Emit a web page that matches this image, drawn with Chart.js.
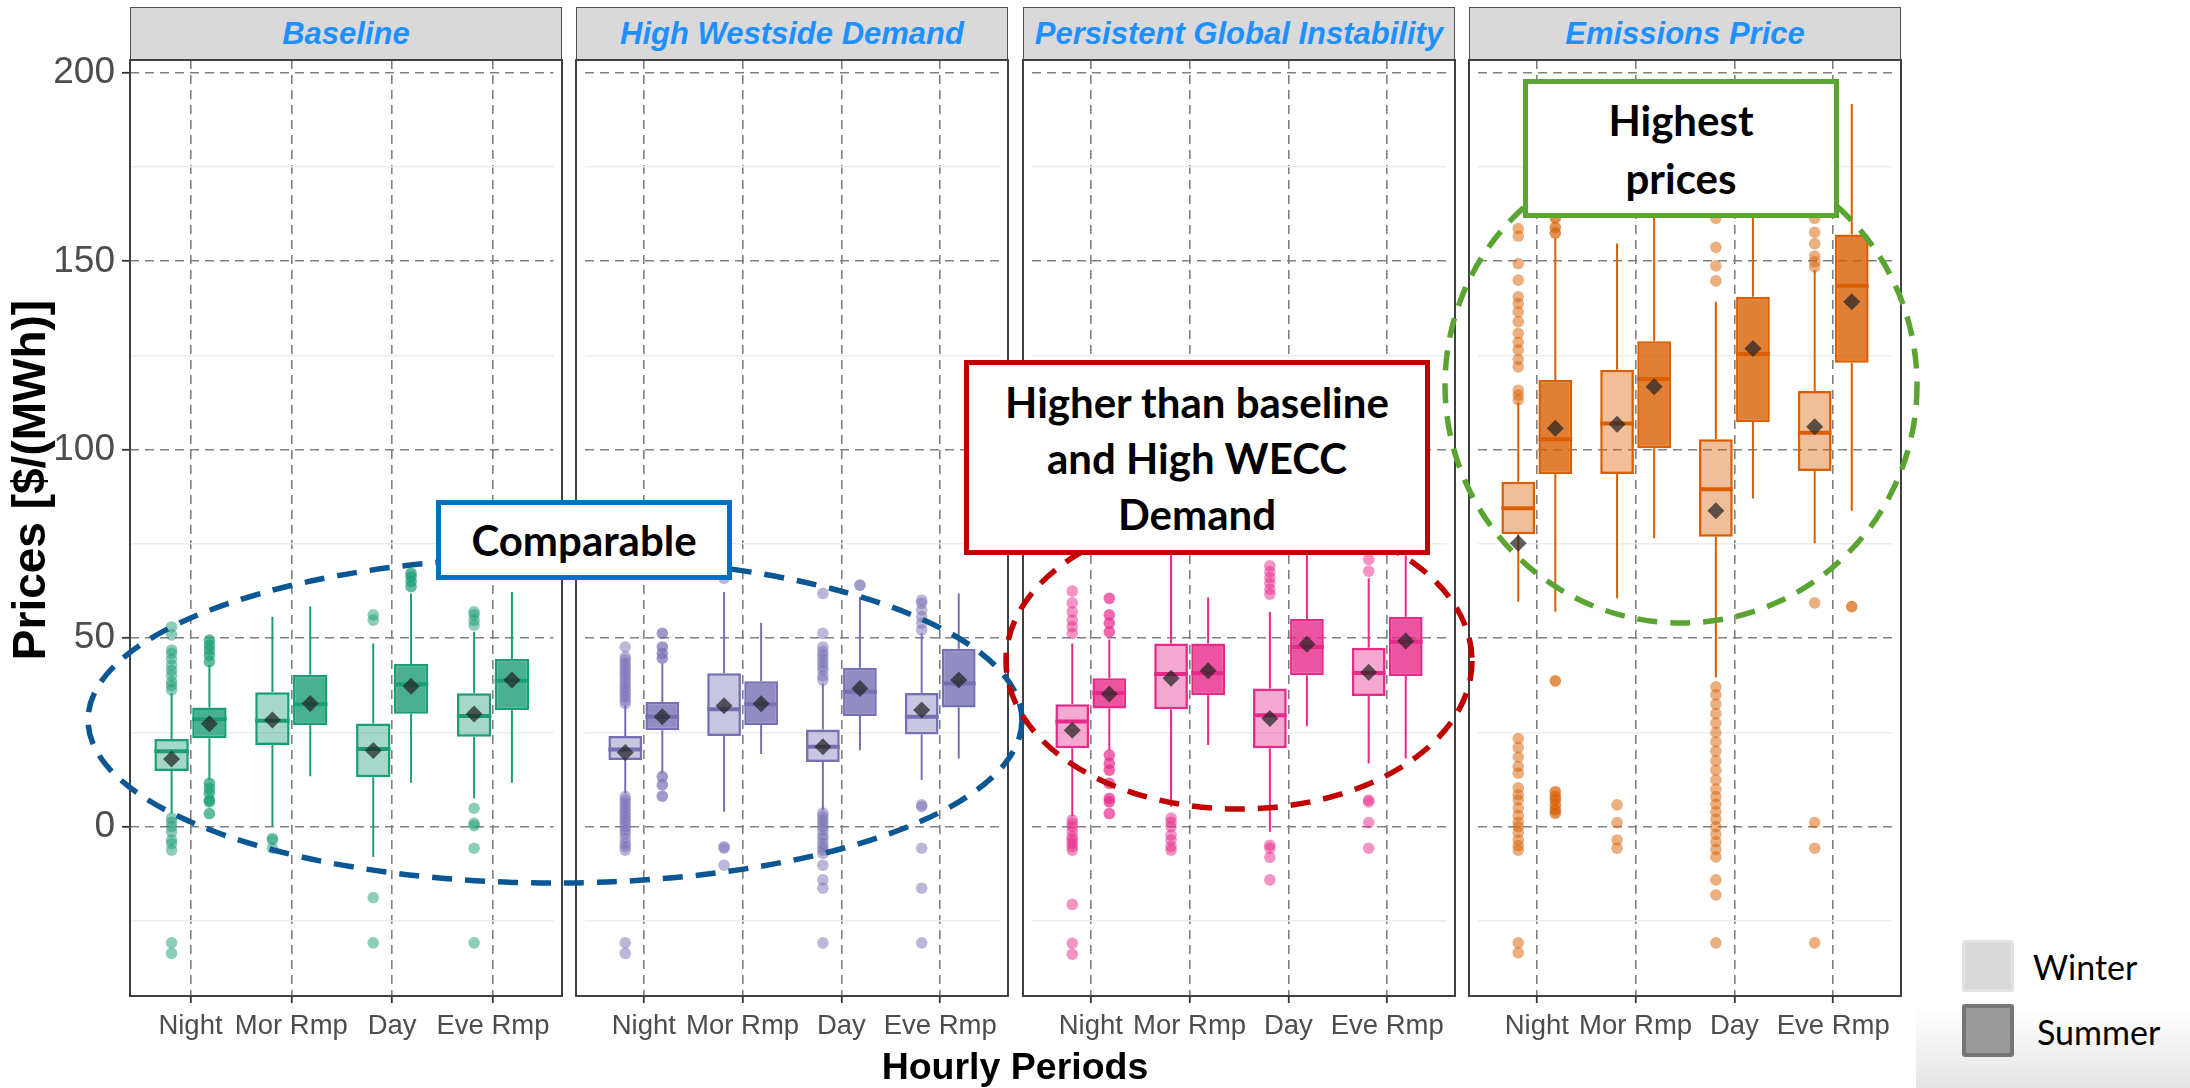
<!DOCTYPE html>
<html>
<head>
<meta charset="utf-8">
<script src="https://cdn.jsdelivr.net/npm/chart.js@4/dist/chart.umd.min.js"></script>
<style>
html,body{margin:0;padding:0;background:#fff;}
#wrap{position:relative;width:2190px;height:1088px;overflow:hidden;font-family:"Liberation Sans",Arial,sans-serif;}
#wrap canvas{position:absolute;z-index:1;}
.strip{position:absolute;top:7px;height:54px;background:#d9d9d9;border:1.5px solid #4d4d4d;box-sizing:border-box;display:flex;align-items:center;justify-content:center;color:#1E90FF;font-weight:bold;font-style:italic;font-size:31px;white-space:nowrap;z-index:2;}
.pborder{position:absolute;top:59px;height:938px;border:2px solid #404040;box-sizing:border-box;pointer-events:none;z-index:2;}
.note{position:absolute;background:#fff;box-sizing:border-box;display:flex;flex-direction:column;align-items:center;justify-content:center;font-family:Lato,"Open Sans",sans-serif;font-weight:bold;font-size:42px;color:#000;text-align:center;z-index:4;}
.ttl{position:absolute;font-weight:bold;color:#000;white-space:nowrap;z-index:2;line-height:1;}
.lg{position:absolute;font-family:Lato,"Open Sans",sans-serif;font-size:34px;color:#000;z-index:3;}
</style>
</head>
<body>
<div id="wrap"></div>
<script>
// ---------- data ----------
const periods = ['Night', 'Mor Rmp', 'Day', 'Eve Rmp'];
const scenarios = ['Baseline', 'High Westside Demand', 'Persistent Global Instability', 'Emissions Price'];
const seasons = ['Winter', 'Summer'];
const yTicks = [0, 50, 100, 150, 200];
const yMinorTicks = [-25, 25, 75, 125, 175];

// per period: [lower whisker, Q1, median, Q3, upper whisker, mean]
const baselineWinter = [
  [3.5, 14.8, 20.0, 23.3, 35.4, 18.0],
  [0.2, 21.7, 28.1, 35.7, 55.7, 28.3],
  [-8.0, 13.1, 20.6, 27.4, 48.6, 20.2],
  [7.5, 23.9, 29.4, 35.4, 51.7, 29.9]
];
const baselineSummer = [
  [12.4, 23.5, 28.5, 31.6, 42.9, 27.3],
  [13.4, 27.0, 32.5, 40.3, 58.4, 32.7],
  [11.7, 30.0, 37.8, 43.2, 61.9, 37.3],
  [11.7, 31.0, 38.7, 44.5, 62.3, 38.9]
];
const westsideWinter = [
  [8.8, 17.7, 20.5, 24.1, 32.3, 19.7],
  [4.0, 24.1, 31.2, 40.7, 62.3, 32.1],
  [4.4, 17.2, 21.2, 25.8, 38.0, 21.2],
  [12.4, 24.5, 29.2, 35.5, 51.3, 31.0]
];
const westsideSummer = [
  [14.2, 25.6, 29.2, 33.1, 43.3, 29.2],
  [19.3, 27.0, 32.5, 38.6, 54.1, 32.6],
  [20.3, 29.4, 35.8, 42.2, 61.0, 36.7],
  [18.1, 31.6, 38.0, 47.2, 61.9, 38.9]
];
const instabilityWinter = [
  [2.7, 20.8, 27.9, 32.5, 48.6, 25.6],
  [5.3, 31.2, 40.5, 48.6, 80.0, 39.4],
  [-1.3, 20.8, 29.6, 36.7, 57.0, 28.7],
  [16.8, 34.7, 40.8, 47.5, 65.9, 41.0]
];
const instabilitySummer = [
  [20.3, 31.4, 35.5, 39.4, 49.7, 35.2],
  [21.7, 34.9, 40.7, 48.6, 60.8, 41.4],
  [26.7, 40.2, 47.7, 55.1, 78.0, 48.4],
  [18.1, 40.0, 49.1, 55.7, 72.0, 49.3]
];
const emissionsWinter = [
  [59.7, 77.6, 84.5, 91.5, 112.7, 75.2],
  [60.6, 93.6, 107.0, 121.2, 154.7, 106.8],
  [39.6, 76.9, 89.5, 102.8, 139.3, 83.8],
  [75.2, 94.4, 104.5, 115.6, 147.7, 106.1]
];
const emissionsSummer = [
  [57.0, 93.6, 102.8, 118.5, 156.1, 105.7],
  [76.5, 100.4, 118.8, 128.8, 168.0, 116.7],
  [87.1, 107.4, 125.4, 140.6, 166.0, 126.9],
  [83.8, 123.1, 143.5, 157.1, 191.7, 139.3]
];

// outliers per period
const baselineWinterOut = [
  [36.3, 37.5, 38.5, 40.2, 41.5, 42.9, 44.5, 46.0, 46.9, 50.9, 53.0, 2.3, 1.2, 0, -1.4, -3.5, -4.5, -6.2, -30.8, -33.6],
  [-3.1, -3.5, -5.7],
  [56.2, 54.8, -18.8, -30.8],
  [53.5, 54.8, 56.2, 57.0, 4.9, 0.9, 0.3, -5.7, -30.8]
];
const baselineSummerOut = [
  [43.8, 45.5, 46.9, 48.2, 49.5, 11.5, 10.2, 8.9, 7.1, 6.6, 3.5],
  [],
  [63.7, 65.0, 66.3, 67.2],
  []
];
const westsideWinterOut = [
  [32.7, 33.6, 34.5, 35.4, 36.3, 37.1, 38.0, 38.9, 39.8, 40.7, 41.5, 42.4, 43.3, 44.2, 45.1, 47.7,
   8.0, 7.1, 6.2, 5.3, 4.4, 3.5, 2.7, 1.8, 0.9, 0, -0.9, -1.8, -3.1, -4.4, -5.3, -6.2, -30.8, -33.6],
  [65.9, -5.3, -5.7, -10.2],
  [38.9, 40.0, 41.5, 42.4, 43.5, 44.5, 45.5, 46.5, 47.7, 51.3, 61.9,
   3.6, 2.7, 1.8, 0.9, 0, -0.9, -2.2, -3.1, -4.4, -5.3, -6.2, -7.1, -10.2, -14.1, -16.3, -30.8],
  [52.2, 54.0, 55.7, 57.5, 59.3, 60.1, 5.8, 5.3, -5.7, -16.3, -30.8]
];
const westsideSummerOut = [
  [44.7, 46.0, 47.7, 51.3, 13.3, 11.1, 8.1],
  [],
  [64.1],
  []
];
const instabilityWinterOut = [
  [51.3, 53.1, 54.8, 57.0, 59.4, 62.5, 1.8, 0.9, 0, -1.3, -2.7, -3.5, -4.4, -5.3, -6.2, -20.6, -30.9, -33.8],
  [2.3, 1.2, 0, -2.2, -3.5, -5.3, -6.2],
  [61.7, 63.0, 64.6, 66.1, 67.6, 69.2, -4.9, -5.7, -8.1, -14.1],
  [67.8, 70.9, 7.1, 6.6, 1.1, -5.7]
];
const instabilitySummerOut = [
  [51.7, 54.0, 56.2, 60.6, 19.0, 16.8, 15.0, 11.5, 7.5, 6.6, 3.5],
  [],
  [],
  []
];
const emissionsWinterOut = [
  [113.2, 114.5, 115.8, 122.0, 124.0, 126.5, 128.5, 130.9, 134.0, 136.6, 138.8, 140.6, 145.0, 149.4, 156.7, 158.7,
   23.4, 21.0, 18.5, 16.0, 14.2, 10.3, 8.5, 7.1, 5.0, 3.0, 1.2, 0, -1.5, -3.5, -5.0, -6.2, -30.8, -33.4],
  [5.8, 1.1, -3.5, -5.7],
  [144.8, 148.8, 153.7, 161.4, 37.1, 35.0, 32.5, 30.0, 27.5, 25.0, 22.5, 20.0, 17.5, 15.0, 12.4, 10.0, 8.0, 6.0,
   4.0, 2.0, 0, -2.0, -4.0, -6.0, -8.0, -14.1, -18.1, -30.8],
  [148.5, 149.9, 151.4, 154.7, 157.7, 161.4, 59.4, 1.1, -5.7, -30.8]
];
const emissionsSummerOut = [
  [157.5, 159.0, 161.5, 38.7, 9.3, 8.0, 7.1, 5.8, 4.5, 3.6],
  [],
  [],
  [58.4]
];

// ---------- styling / layout ----------
const palette = [[27,158,119],[117,112,179],[231,41,138],[217,95,2]];
const boxStats = [[baselineWinter, baselineSummer],[westsideWinter, westsideSummer],[instabilityWinter, instabilitySummer],[emissionsWinter, emissionsSummer]];
const outStats = [[baselineWinterOut, baselineSummerOut],[westsideWinterOut, westsideSummerOut],[instabilityWinterOut, instabilitySummerOut],[emissionsWinterOut, emissionsSummerOut]];

const PANEL_LEFT = [130, 576, 1023, 1469];
const PANEL_W = 432;
const PLOT_TOP = 60, PLOT_BOTTOM = 996;
const CANVAS_TOP = 10, X_AXIS_H = 60;
const Y_MIN = -44.9, Y_MAX = 203.4;
const CAT_PCT = 0.75, BAR_PCT = 0.91;
const DODGE = CAT_PCT / 4;
const GRID_MAJOR = '#808080';
const FILL_ALPHA = [0.4, 0.8];
const OUT_ALPHA = [0.5, 0.7];

const rgba = (c, a) => `rgba(${c[0]},${c[1]},${c[2]},${a})`;

const medianPlugin = {
  id: 'medians',
  afterDatasetDraw(chart, args) {
    const ds = chart.data.datasets[args.index];
    if (!ds.medians) return;
    const ctx = chart.ctx, ys = chart.scales.y;
    ctx.save();
    ctx.strokeStyle = ds.medianColor;
    ctx.lineWidth = 4;
    args.meta.data.forEach((el, i) => {
      const p = el.getProps(['x', 'width'], true);
      const yy = ys.getPixelForValue(ds.medians[i]);
      ctx.beginPath();
      ctx.moveTo(p.x - p.width / 2, yy);
      ctx.lineTo(p.x + p.width / 2, yy);
      ctx.stroke();
    });
    ctx.restore();
  }
};

const wrap = document.getElementById('wrap');

function makePanel(idx) {
  const isFirst = idx === 0;
  const axisW = isFirst ? PANEL_LEFT[0] : 0;
  const canvas = document.createElement('canvas');
  canvas.width = PANEL_W + axisW;
  canvas.height = PLOT_BOTTOM - CANVAS_TOP + X_AXIS_H;
  canvas.style.left = (PANEL_LEFT[idx] - axisW) + 'px';
  canvas.style.top = CANVAS_TOP + 'px';
  wrap.appendChild(canvas);

  const col = palette[idx];
  const datasets = [];
  seasons.forEach((season, s) => {
    const st = boxStats[idx][s];
    datasets.push({
      type: 'bar', label: season, stack: season, order: 3,
      data: st.map((r, i) => ({ x: i, y: [r[1], r[3]] })),
      backgroundColor: rgba(col, FILL_ALPHA[s]), borderColor: rgba(col, 1),
      borderWidth: 2.5, borderSkipped: false,
      categoryPercentage: CAT_PCT, barPercentage: BAR_PCT,
      medians: st.map(r => r[2]), medianColor: rgba(col, 1)
    });
  });
  seasons.forEach((season, s) => {
    const st = boxStats[idx][s];
    datasets.push({
      type: 'bar', label: season + ' lower whisker', stack: season, order: 4,
      data: st.map((r, i) => ({ x: i, y: [r[0], r[1]] })),
      backgroundColor: rgba(col, 1), borderWidth: 0, maxBarThickness: 2,
      categoryPercentage: CAT_PCT, barPercentage: BAR_PCT
    });
    datasets.push({
      type: 'bar', label: season + ' upper whisker', stack: season, order: 4,
      data: st.map((r, i) => ({ x: i, y: [r[3], r[4]] })),
      backgroundColor: rgba(col, 1), borderWidth: 0, maxBarThickness: 2,
      categoryPercentage: CAT_PCT, barPercentage: BAR_PCT
    });
  });
  seasons.forEach((season, s) => {
    const off = s === 0 ? -DODGE : DODGE;
    const pts = [];
    outStats[idx][s].forEach((arr, i) => arr.forEach(v => pts.push({ x: i + off, y: v })));
    datasets.push({
      type: 'scatter', label: season + ' outliers', order: 2, data: pts,
      pointRadius: 5.8, pointBorderWidth: 0, backgroundColor: rgba(col, OUT_ALPHA[s]), borderWidth: 0
    });
  });
  seasons.forEach((season, s) => {
    const off = s === 0 ? -DODGE : DODGE;
    datasets.push({
      type: 'scatter', label: season + ' mean', order: 1,
      data: boxStats[idx][s].map((r, i) => ({ x: i + off, y: r[5] })),
      pointStyle: 'rectRot', pointRadius: 8.5, pointBorderWidth: 0,
      backgroundColor: 'rgba(35,35,35,0.72)', borderWidth: 0
    });
  });

  new Chart(canvas, {
    type: 'bar',
    data: { datasets },
    plugins: [medianPlugin],
    options: {
      responsive: false, animation: false, events: [],
      layout: { padding: { top: PLOT_TOP - CANVAS_TOP, left: 0, right: 0, bottom: 0 } },
      plugins: { legend: { display: false }, tooltip: { enabled: false } },
      scales: {
        x: {
          type: 'linear', min: -0.6, max: 3.6, offset: false, bounds: 'data',
          afterBuildTicks: sc => { sc.ticks = periods.map((_, i) => ({ value: i })); },
          afterFit: sc => { sc.height = X_AXIS_H; },
          ticks: { autoSkip: false, maxRotation: 0, minRotation: 0, padding: 7, color: '#4d4d4d',
                   font: { family: 'Liberation Sans', size: 27.5 }, callback: v => periods[v] },
          grid: { color: GRID_MAJOR, lineWidth: 1.6, offset: false, drawTicks: true, tickLength: 7,
                  tickColor: '#333', tickWidth: 1.8 },
          border: { display: false, dash: [9, 6] }
        },
        y: {
          type: 'linear', position: 'left', min: Y_MIN, max: Y_MAX, stacked: false, bounds: 'data',
          afterBuildTicks: sc => { sc.ticks = yTicks.map(v => ({ value: v })); },
          afterFit: sc => { sc.width = axisW; },
          ticks: { display: isFirst, padding: 7, color: '#4d4d4d', font: { family: 'Liberation Sans', size: 37 } },
          grid: { color: GRID_MAJOR, lineWidth: 1.6, drawTicks: isFirst, tickLength: 8, tickColor: '#333', tickWidth: 1.8 },
          border: { display: false, dash: [9, 6] }
        },
        y2: {
          type: 'linear', position: 'left', min: Y_MIN, max: Y_MAX, stacked: false, bounds: 'data',
          afterBuildTicks: sc => { sc.ticks = yMinorTicks.map(v => ({ value: v })); },
          afterFit: sc => { sc.width = 0; },
          ticks: { display: false },
          grid: { color: '#ededed', lineWidth: 1.5, drawTicks: false },
          border: { display: false }
        }
      }
    }
  });

  const strip = document.createElement('div');
  strip.className = 'strip';
  strip.style.left = PANEL_LEFT[idx] + 'px';
  strip.style.width = PANEL_W + 'px';
  strip.textContent = scenarios[idx];
  wrap.appendChild(strip);
  const pb = document.createElement('div');
  pb.className = 'pborder';
  pb.style.left = (PANEL_LEFT[idx] - 1) + 'px';
  pb.style.width = (PANEL_W + 2) + 'px';
  wrap.appendChild(pb);
}

scenarios.forEach((_, i) => makePanel(i));

// ---------- titles, legend, annotations ----------
function addDiv(cls, css, html) {
  const d = document.createElement('div');
  d.className = cls;
  d.style.cssText = css;
  d.innerHTML = html;
  wrap.appendChild(d);
  return d;
}
addDiv('ttl', 'left:1015px;top:1067px;transform:translate(-50%,-50%);font-size:37.5px;', 'Hourly Periods');
addDiv('ttl', 'left:29px;top:480px;transform:translate(-50%,-50%) rotate(-90deg);font-size:46px;', 'Prices [$/(MWh)]');

// legend
addDiv('', 'position:absolute;left:1916px;top:1008px;width:274px;height:80px;background:linear-gradient(#ffffff,#e4e4e4);z-index:1;', '');
addDiv('', 'position:absolute;left:1962px;top:940px;width:52px;height:52px;box-sizing:border-box;background:#d9d9d9;border:3px solid #e2e2e2;border-radius:3px;z-index:3;', '');
addDiv('', 'position:absolute;left:1962px;top:1004px;width:52px;height:53px;box-sizing:border-box;background:#9a9a9a;border:4px solid #767676;border-radius:3px;z-index:3;', '');
addDiv('lg', 'left:2033px;top:966px;transform:translateY(-50%);', seasons[0]);
addDiv('lg', 'left:2037px;top:1031px;transform:translateY(-50%);', seasons[1]);

// ellipses
const svgNS = 'http://www.w3.org/2000/svg';
const svg = document.createElementNS(svgNS, 'svg');
svg.setAttribute('width', 2190); svg.setAttribute('height', 1088);
svg.style.cssText = 'position:absolute;left:0;top:0;z-index:3;';
[[555, 720, 467, 163, '#0A5794'], [1239, 661, 233, 148, '#C00000'], [1681, 385, 236, 238, '#5AA532']].forEach(e => {
  const el = document.createElementNS(svgNS, 'ellipse');
  el.setAttribute('cx', e[0]); el.setAttribute('cy', e[1]);
  el.setAttribute('rx', e[2]); el.setAttribute('ry', e[3]);
  el.setAttribute('fill', 'none'); el.setAttribute('stroke', e[4]);
  el.setAttribute('stroke-width', 5.5); el.setAttribute('stroke-dasharray', '20 13');
  svg.appendChild(el);
});
wrap.appendChild(svg);

addDiv('note', 'left:436px;top:500px;width:296px;height:80px;border:5px solid #0070C0;', 'Comparable');
addDiv('note', 'left:964px;top:360px;width:466px;height:195px;border:5px solid #C00000;line-height:56px;', '<div>Higher than baseline</div><div>and High WECC</div><div>Demand</div>');
addDiv('note', 'left:1523px;top:79px;width:316px;height:139px;border:5px solid #5AA532;line-height:58px;', '<div>Highest</div><div>prices</div>');
</script>
</body>
</html>
